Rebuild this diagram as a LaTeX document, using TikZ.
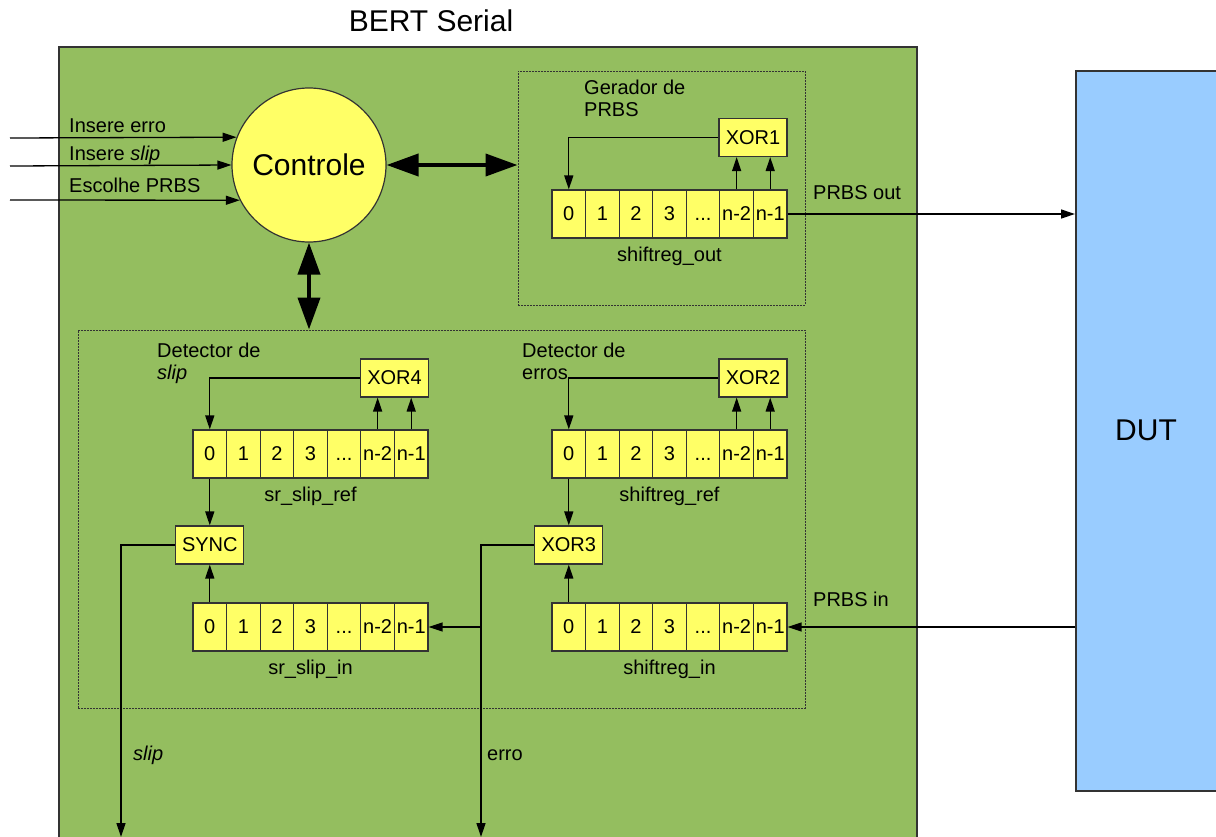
\documentclass[tikz,border=0pt]{standalone}
\usepackage{fontspec}
\setmainfont{Liberation Sans}
\usetikzlibrary{arrows.meta}
\definecolor{bgreen}{RGB}{148,190,95}
\definecolor{byellow}{RGB}{255,255,102}
\definecolor{bblue}{RGB}{153,204,255}
\definecolor{bdark}{RGB}{51,51,51}
\newcommand\mydots{\vphantom{0}.\kern0pt.\kern0pt.}
\def\cw{33.57}
\newcommand\shreg[4]{%
  \foreach \t [count=\i from 0] in {0,1,2,3,\mydots,n-2,n-1}{%
    \node[cell] (#1-\i) at ({#2+(\i+0.5)*\cw},{#3+24}) {\t};
  }%
  \node[sm, anchor=base] (#1-cap) at ({#2+3.5*\cw},{#3+71}) {#4};
}
\begin{document}
\begin{tikzpicture}[x=1pt,y=-1pt,
  sm/.style={font=\fontsize{20}{22.5}\selectfont, inner sep=0pt, text=black},
  big/.style={font=\fontsize{30}{36}\selectfont, inner sep=0pt, text=black},
  cell/.style={sm, draw=bdark, line width=1.2pt, fill=byellow, minimum width=\cw pt, minimum height=48pt},
  gate/.style={sm, draw=bdark, line width=1.2pt, fill=byellow, minimum width=68pt, minimum height=38pt},
  wire/.style={draw=black, line width=1.3pt},
  arr/.style={wire, -{Triangle[length=14pt,width=9pt]}},
  bigarr/.style={draw=black, line width=4pt, {Triangle[length=32pt,width=22pt]}-{Triangle[length=32pt,width=22pt]}},
  dotbox/.style={draw=bdark, line width=1pt, dash pattern=on 2pt off 1pt, inner sep=0pt},
]
\useasboundingbox (0,0) rectangle (1216,836);
\clip (0,0) rectangle (1216,836);

% outer blocks
\node[draw=bdark, line width=2pt, fill=bgreen, anchor=north west, inner sep=0pt,
      minimum width=858pt, minimum height=820pt] (bert) at (58,46) {};
\node[draw=bdark, line width=1.5pt, fill=bblue, anchor=north west, inner sep=0pt,
      minimum width=170pt, minimum height=720pt] (dut) at (1075,70) {};
\node[big] (dutlbl) at (1146,430) {DUT};
\node[big, anchor=base] (title) at (431,31) {BERT Serial};

% dotted groups
\node[dotbox, minimum width=287pt, minimum height=234pt] (gen) at (661.5,188) {};
\node[dotbox, minimum width=727pt, minimum height=378pt] (det) at (441.5,519) {};

% control
\node[circle, draw=bdark, line width=1.2pt, fill=byellow, minimum size=154pt, big] (ctrl) at (309,165) {Controle};

% group labels
\node[sm, anchor=north west, align=left] (gentxt) at (584,79.5) {Gerador de\\PRBS};
\node[sm, anchor=north west, align=left] (slptxt) at (157,342.5) {Detector de\\\textit{slip}};
\node[sm, anchor=north west, align=left] (errtxt) at (522,342.5) {Detector de\\erros};

% shift registers
\shreg{out}{552}{190}{shiftreg\_out}
\shreg{ref}{552}{430}{shiftreg\_ref}
\shreg{in}{552}{603}{shiftreg\_in}
\shreg{sref}{193}{430}{sr\_slip\_ref}
\shreg{sin}{193}{603}{sr\_slip\_in}

% gates
\node[gate] (xor1) at (753,137.5) {XOR1};
\node[gate] (xor2) at (753,378) {XOR2};
\node[gate] (xor4) at (394.5,378) {XOR4};
\node[gate] (xor3) at (568.8,545) {XOR3};
\node[gate] (sync) at (209.8,545) {SYNC};

% feedback loops
\draw[arr] (xor1.west) -| (out-0.north);
\draw[arr] (out-5.north) -- (out-5.north |- xor1.south);
\draw[arr] (out-6.north) -- (out-6.north |- xor1.south);
\draw[arr] (xor2.west) -| (ref-0.north);
\draw[arr] (ref-5.north) -- (ref-5.north |- xor2.south);
\draw[arr] (ref-6.north) -- (ref-6.north |- xor2.south);
\draw[arr] (xor4.west) -| (sref-0.north);
\draw[arr] (sref-5.north) -- (sref-5.north |- xor4.south);
\draw[arr] (sref-6.north) -- (sref-6.north |- xor4.south);

% comparisons
\draw[arr] (ref-0.south) -- (ref-0.south |- xor3.north);
\draw[arr] (in-0.north) -- (in-0.north |- xor3.south);
\draw[arr] (sref-0.south) -- (sref-0.south |- sync.north);
\draw[arr] (sin-0.north) -- (sin-0.north |- sync.south);

% outputs
\coordinate (slipend) at (121,837);
\coordinate (erroend) at (481,837);
\draw[arr] (sync.west) -| (slipend);
\draw[arr] (xor3.west) -| (erroend);
\draw[arr] (erroend |- sin-6.east) -- (sin-6.east);
\node[sm, anchor=base west] (sliplbl) at (133,760.5) {\textit{slip}};
\node[sm, anchor=base west] (errolbl) at (487,760.5) {erro};

% DUT links
\draw[arr] (out-6.east) -- (out-6.east -| dut.west);
\draw[arr] (in-6.east -| dut.west) -- (in-6.east);
\node[sm, anchor=base west] (pout) at (813,199) {PRBS out};
\node[sm, anchor=base west] (pin) at (813,606.5) {PRBS in};

% control inputs
\coordinate (i1) at (10,138);
\coordinate (i2) at (10,166);
\coordinate (i3) at (10,200);
\draw[arr] (i1) -- (ctrl.159.47);
\draw[arr] (i2) -- (ctrl.180.74);
\draw[arr] (i3) -- (ctrl.207.03);
\node[sm, anchor=base west] (l1) at (69,132) {Insere erro};
\node[sm, anchor=base west] (l2) at (69,160) {Insere \textit{slip}};
\node[sm, anchor=base west] (l3) at (69,192) {Escolhe PRBS};

% control links
\draw[bigarr] (ctrl.east) -- (gen.west |- ctrl.east);
\draw[bigarr] (ctrl.south) -- (ctrl.south |- det.north);
\end{tikzpicture}
\end{document}
